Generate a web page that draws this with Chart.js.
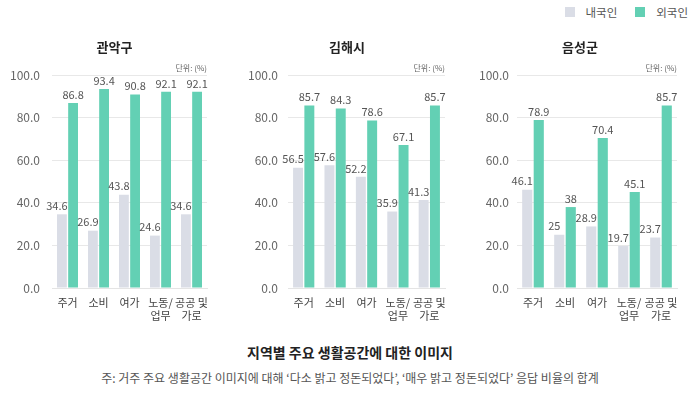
<!DOCTYPE html>
<html><head><meta charset="utf-8">
<script src="https://cdn.jsdelivr.net/npm/chart.js@4/dist/chart.umd.min.js"></script>
<style>
html,body{margin:0;padding:0;background:#fff;width:700px;height:394px;overflow:hidden;font-family:"Noto Sans CJK KR","Noto Sans",sans-serif;}
.c{position:absolute;top:30px;height:300px;}
#legend{position:absolute;top:4px;right:12px;font-size:11.5px;color:#555;display:flex;align-items:center;white-space:nowrap;}
#legend span.sq{display:inline-block;width:10px;height:10px;margin-right:11px;}
#legend span.t{margin-right:18px;}
#legend span.t:last-child{margin-right:0;}
#mainTitle{position:absolute;top:342px;left:0;width:700px;text-align:center;font-size:14px;font-weight:bold;color:#222;}
#note{position:absolute;top:369px;left:0;width:700px;text-align:center;font-size:12px;color:#555;}
</style></head>
<body>
<div id="legend"><span class="sq" style="background:#dadde6"></span><span class="t">내국인</span><span class="sq" style="background:#63d0b4"></span><span class="t">외국인</span></div>
<div class="c" style="left:0;width:233px"><canvas id="c1" width="233" height="300"></canvas></div>
<div class="c" style="left:233px;width:233px"><canvas id="c2" width="233" height="300"></canvas></div>
<div class="c" style="left:466px;width:234px"><canvas id="c3" width="234" height="300"></canvas></div>
<div id="mainTitle">지역별 주요 생활공간에 대한 이미지</div>
<div id="note">주: 거주 주요 생활공간 이미지에 대해 ‘다소 밝고 정돈되었다’, ‘매우 밝고 정돈되었다’ 응답 비율의 합계</div>
<script>
const categories = ["주거", "소비", "여가", ["노동/", "업무"], ["공공 및", "가로"]];
const seriesNames = ["내국인", "외국인"];
const regions = ["관악구", "김해시", "음성군"];
const gwanakDomestic = [34.6, 26.9, 43.8, 24.6, 34.6];
const gwanakForeign = [86.8, 93.4, 90.8, 92.1, 92.1];
const gimhaeDomestic = [56.5, 57.6, 52.2, 35.9, 41.3];
const gimhaeForeign = [85.7, 84.3, 78.6, 67.1, 85.7];
const eumseongDomestic = [46.1, 25, 28.9, 19.7, 23.7];
const eumseongForeign = [78.9, 38, 70.4, 45.1, 85.7];
const yTicks = [0, 20, 40, 60, 80, 100];
const unitText = "단위: (%)";

const FONT = '"Noto Sans CJK KR","Noto Sans",sans-serif';
Chart.defaults.font.family = FONT;
Chart.defaults.animation = false;

const labelPlugin = {
  id: 'valLabels',
  afterDatasetsDraw(chart) {
    const ctx = chart.ctx;
    ctx.save();
    ctx.font = '11px ' + FONT;
    ctx.fillStyle = '#555';
    ctx.textAlign = 'center';
    ctx.textBaseline = 'bottom';
    chart.data.datasets.forEach((ds, di) => {
      const meta = chart.getDatasetMeta(di);
      meta.data.forEach((bar, i) => {
        const dx = di === 0 ? -5 : 0;
        ctx.fillText(String(ds.data[i]), bar.x + dx, bar.y - 3);
      });
    });
    ctx.restore();
  }
};

const headPlugin = {
  id: 'heads',
  afterDraw(chart, args, opts) {
    const ctx = chart.ctx;
    ctx.save();
    ctx.fillStyle = '#222';
    ctx.font = 'bold 13px ' + FONT;
    ctx.textAlign = 'center';
    ctx.textBaseline = 'middle';
    ctx.fillText(opts.title, opts.titleX, 17);
    ctx.fillStyle = '#666';
    ctx.font = '8px ' + FONT;
    ctx.textAlign = 'right';
    ctx.fillText(unitText, chart.chartArea.right, 37.5);
    ctx.restore();
  }
};

function makeChart(id, title, dom, fore, yW, padR, tickPad, titleX) {
  new Chart(document.getElementById(id), {
    type: 'bar',
    data: {
      labels: categories,
      datasets: [
        {label: seriesNames[0], data: dom, backgroundColor: '#dadde6', categoryPercentage: 0.72, barPercentage: 0.88},
        {label: seriesNames[1], data: fore, backgroundColor: '#63d0b4', categoryPercentage: 0.72, barPercentage: 0.88}
      ]
    },
    options: {
      responsive: false,
      layout: {padding: {left: 0, right: padR, top: 45, bottom: 2}},
      plugins: {
        legend: {display: false},
        tooltip: {enabled: false},
        heads: {title: title, titleX: titleX}
      },
      scales: {
        x: {
          grid: {display: false, drawTicks: false},
          border: {display: true, color: '#e4e4e4'},
          ticks: {color: '#444', font: {size: 11}, padding: 8, maxRotation: 0, autoSkip: false},
          afterFit(s) { s.height = 40; }
        },
        y: {
          min: 0, max: 100,
          afterBuildTicks(s) { s.ticks = yTicks.map(v => ({value: v})); },
          grid: {color: '#e8e8e8', drawTicks: false},
          border: {display: false},
          ticks: {color: '#666', font: {size: 12}, padding: tickPad, callback: v => v.toFixed(1)},
          afterFit(s) { s.width = yW; }
        }
      }
    },
    plugins: [labelPlugin, headPlugin]
  });
}
makeChart('c1', regions[0], gwanakDomestic, gwanakForeign, 52, 26, 12, 114.5);
makeChart('c2', regions[1], gimhaeDomestic, gimhaeForeign, 55, 21, 10, 114);
makeChart('c3', regions[2], eumseongDomestic, eumseongForeign, 51, 23, 8, 114);
</script>
</body></html>
